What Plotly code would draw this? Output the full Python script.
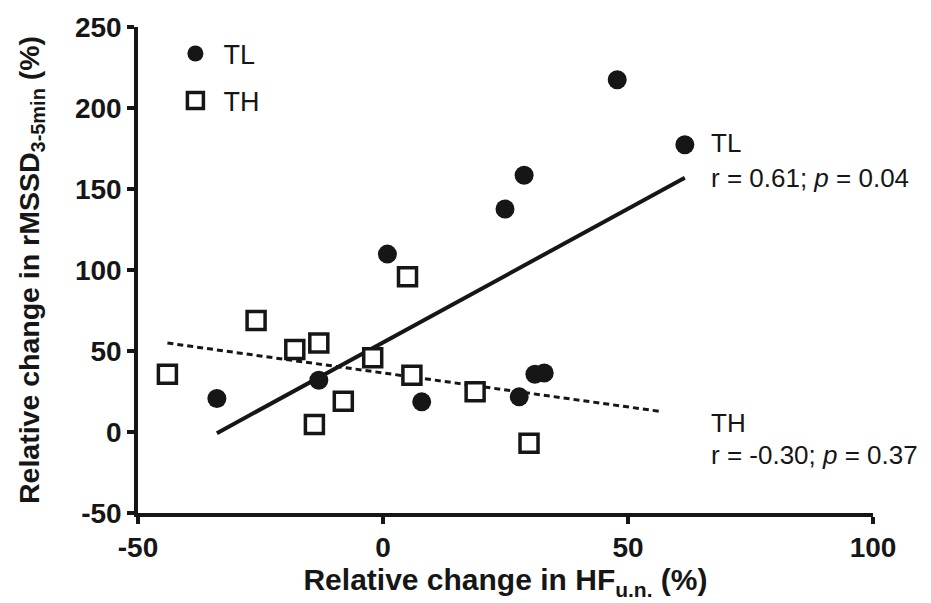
import numpy as np
import plotly.graph_objects as go

# Relative change (%) per subject: HF u.n. (x) vs rMSSD 3-5 min (y)
tl_hf = [-33.9, -13.1, 0.9, 7.9, 27.8, 31.0, 32.9, 24.9, 28.8, 47.8, 61.6]
tl_rmssd = [20.7, 31.9, 109.8, 18.6, 21.7, 35.6, 36.4, 137.6, 158.5, 217.4, 177.3]

th_hf = [-44.0, -25.9, -18.0, -13.1, -8.1, -14.0, -2.1, 5.0, 5.9, 18.8, 29.8]
th_rmssd = [35.6, 68.8, 51.0, 54.9, 19.0, 4.7, 45.9, 95.8, 35.0, 24.8, -6.9]

# Regression line spans
tl_fit_span = [min(tl_hf), max(tl_hf)]
th_fit_span = [min(th_hf), 56.5]

x_ticks = [-50, 0, 50, 100]
y_ticks = [-50, 0, 50, 100, 150, 200, 250]

INK = "#161616"
FONT = "Liberation Sans, Arial, sans-serif"


def fit_line(xs, ys, span):
    slope, intercept = np.polyfit(xs, ys, 1)
    xx = np.array(span)
    return xx, slope * xx + intercept


def corr(xs, ys):
    return float(np.corrcoef(xs, ys)[0, 1])


def tick_labels(vals):
    # plain hyphen for negative numbers
    return [str(v) for v in vals]


fig = go.Figure()

tl_x, tl_y = fit_line(tl_hf, tl_rmssd, tl_fit_span)
th_x, th_y = fit_line(th_hf, th_rmssd, th_fit_span)

fig.add_trace(go.Scatter(x=tl_x, y=tl_y, mode="lines", showlegend=False,
                         line=dict(color=INK, width=4), hoverinfo="skip"))
fig.add_trace(go.Scatter(x=th_x, y=th_y, mode="lines", showlegend=False,
                         line=dict(color=INK, width=3, dash="6px,4px"),
                         hoverinfo="skip"))

fig.add_trace(go.Scatter(
    x=tl_hf, y=tl_rmssd, mode="markers", name="TL", legendgroup="TL",
    marker=dict(symbol="circle", size=19, color=INK, line=dict(width=0)),
))
fig.add_trace(go.Scatter(
    x=th_hf, y=th_rmssd, mode="markers", name="TH", legendgroup="TH",
    marker=dict(symbol="square", size=18, color="white",
                line=dict(width=3.5, color=INK)),
))

ann_font = dict(family=FONT, size=26, color=INK)
r_tl = corr(tl_hf, tl_rmssd)
r_th = corr(th_hf, th_rmssd)
notes = [
    (66.5, 178.5, "TL"),
    (66.5, 157, f"r = {r_tl:.2f}; <i>p</i> = 0.04"),
    (66.5, 5.5, "TH"),
    (66.5, -14, f"r = {r_th:.2f}; <i>p</i> = 0.37"),
]
for x, y, t in notes:
    fig.add_annotation(x=x, y=y, text=t, showarrow=False, xanchor="left",
                       yanchor="middle", font=ann_font, align="left")

axis_common = dict(
    showline=True, linewidth=3.5, linecolor=INK,
    ticks="outside", ticklen=7, tickwidth=3.5, tickcolor=INK,
    showgrid=False, zeroline=False,
    tickfont=dict(family=FONT, size=28, color=INK, weight="bold"),
)

fig.update_layout(
    width=931, height=603,
    margin=dict(l=138, r=58, t=25, b=89.5),
    paper_bgcolor="white", plot_bgcolor="white",
    xaxis=dict(
        range=[-50, 100], tickvals=x_ticks, ticktext=tick_labels(x_ticks),
        title=dict(text="Relative change in HF<sub>u.n.</sub> (%)",
                   font=dict(family=FONT, size=30, color=INK, weight="bold"),
                   standoff=4),
        **axis_common,
    ),
    yaxis=dict(
        range=[-50, 250], tickvals=y_ticks, ticktext=tick_labels(y_ticks),
        title=dict(text="Relative change in rMSSD<sub>3-5min</sub> (%)",
                   font=dict(family=FONT, size=28.5, color=INK, weight="bold"),
                   standoff=28),
        **axis_common,
    ),
    legend=dict(
        x=0.04, y=0.995, xanchor="left", yanchor="top",
        font=dict(family=FONT, size=27, color=INK),
        bgcolor="rgba(0,0,0,0)", borderwidth=0,
        traceorder="grouped", tracegroupgap=9, itemwidth=46,
    ),
    showlegend=True,
)

fig.write_html("out.html")
